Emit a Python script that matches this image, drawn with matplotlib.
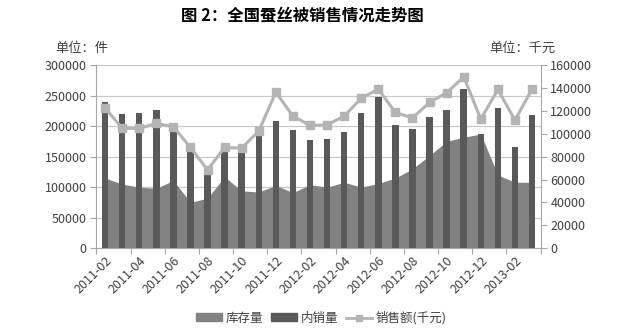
import numpy as np
import matplotlib
matplotlib.use('Agg')
import matplotlib.pyplot as plt
from matplotlib.patches import Patch
from matplotlib.lines import Line2D

plt.rcParams['font.family'] = ['Noto Sans CJK SC', 'DejaVu Sans']

months = ['2011-02', '2011-03', '2011-04', '2011-05', '2011-06', '2011-07', '2011-08',
          '2011-09', '2011-10', '2011-11', '2011-12', '2012-01', '2012-02', '2012-03',
          '2012-04', '2012-05', '2012-06', '2012-07', '2012-08', '2012-09', '2012-10',
          '2012-11', '2012-12', '2013-01', '2013-02', '2013-03']

# 库存量 (件)
stock = [115000, 105000, 100000, 98000, 111000, 75000, 82000, 117000, 94000, 92000,
         103000, 91000, 104000, 100000, 108000, 100000, 106000, 115000, 130000, 152000,
         175000, 182000, 187000, 120000, 108000, 108000]

# 内销量 (件)
domestic = [240000, 220000, 222000, 226000, 193000, 160000, 119500, 160000, 158000, 185500,
            208000, 193500, 177000, 179000, 191000, 221000, 248000, 201500, 195500, 215500,
            227000, 261500, 186500, 229000, 165000, 219000]

# 销售额 (千元)
revenue = [122700, 104700, 104700, 109000, 106100, 88000, 68500, 88000, 87500, 102300,
           136400, 115400, 107300, 107800, 115400, 131100, 139000, 118600, 113900, 127400,
           135800, 149800, 112800, 138700, 111900, 139000]

c_stock = '#828282'
c_dom = '#595959'
c_rev = '#b4b4b4'
c_txt = '#404040'
c_axis = '#a6a6a6'

fig = plt.figure(figsize=(6.39, 3.34), dpi=100)
ax = fig.add_axes([0.151, 0.257, 0.695, 0.548])
ax2 = ax.twinx()

x = np.arange(len(months))
ax.fill_between(x, stock, 0, color=c_stock, lw=0, zorder=2)
ax.bar(x, domestic, width=0.38, color=c_dom, zorder=3)
ax2.plot(x, revenue, color=c_rev, lw=2.2, marker='s', markersize=6,
         markerfacecolor=c_rev, markeredgecolor=c_rev, zorder=4)

ax.set_xlim(-0.5, len(months) - 0.5)
ax.set_ylim(0, 300000)
ax2.set_ylim(0, 160000)
ax.set_yticks(np.arange(0, 300001, 50000))
ax2.set_yticks(np.arange(0, 160001, 20000))

ax.yaxis.grid(True, color='#c8c8c8', lw=0.9)
ax.set_axisbelow(True)

# tick marks sit on category edges, labels on every other category
ax.set_xticks(np.arange(-0.5, len(months), 2), minor=False)
ax.set_xticklabels([])
ax.set_xticks(x[::2], minor=True)
ax.set_xticklabels(months[::2], minor=True, rotation=45, ha='right', va='top',
                   rotation_mode='anchor', fontsize=9, color=c_txt)
ax.tick_params(axis='x', which='minor', length=0, pad=4)
ax.tick_params(axis='x', which='major', length=4, color=c_axis)

ax.tick_params(axis='y', labelsize=9, labelcolor=c_txt, length=4, color=c_axis, pad=3)
ax2.tick_params(axis='y', labelsize=9, labelcolor=c_txt, length=4, color=c_axis, pad=3)

for a in (ax, ax2):
    a.spines['top'].set_visible(False)
    for s in ('left', 'right', 'bottom'):
        a.spines[s].set_color(c_axis)
ax.spines['right'].set_visible(False)
ax2.spines['left'].set_visible(False)
ax2.spines['bottom'].set_visible(False)

fig.text(0.473, 0.952, '图 2：全国蚕丝被销售情况走势图', ha='center', va='center',
         fontsize=11.8, fontweight='bold', color='#000000')
fig.text(0.086, 0.856, '单位：件', ha='left', va='center', fontsize=9.5, color=c_txt)
fig.text(0.869, 0.856, '单位：千元', ha='right', va='center', fontsize=9.5, color=c_txt)

handles = [Patch(color=c_stock), Patch(color=c_dom),
           Line2D([], [], color=c_rev, lw=2, marker='s', markersize=5)]
fig.legend(handles, ['库存量', '内销量', '销售额(千元)'], loc='center',
           bbox_to_anchor=(0.503, 0.048), ncol=3, frameon=False, fontsize=9,
           handlelength=2.1, handleheight=0.6, columnspacing=0.6, handletextpad=0.3,
           labelcolor=c_txt)

fig.savefig('out.png', dpi=100)
